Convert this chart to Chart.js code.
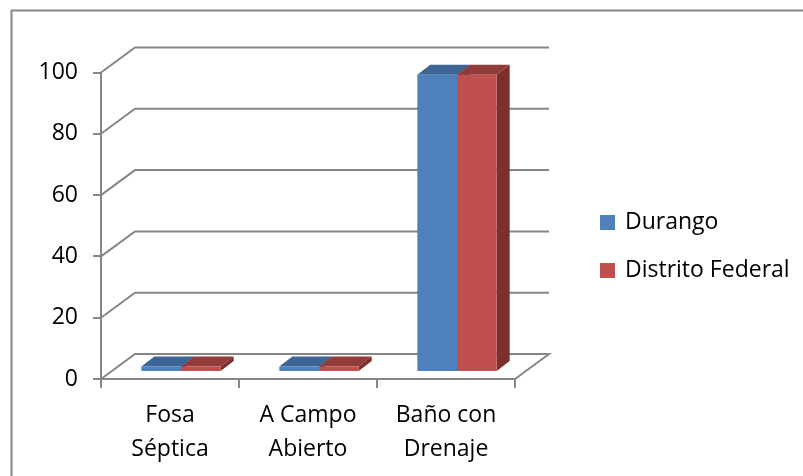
<!DOCTYPE html>
<html>
<head>
<meta charset="utf-8">
<script src="https://cdn.jsdelivr.net/npm/chart.js@4"></script>
<style>
html, body { margin: 0; padding: 0; background: #fff; }
#caja { position: absolute; left: 0; top: 0; width: 803px; height: 476px; }
</style>
</head>
<body>
<div id="caja"><canvas id="grafica" width="803" height="476"></canvas></div>
<script>
const categorias = [["Fosa", "Séptica"], ["A Campo", "Abierto"], ["Baño con", "Drenaje"]];
const durango = [1.8, 1.8, 97];
const distritoFederal = [1.8, 1.8, 97];
const marcasY = [0, 20, 40, 60, 80, 100];

const colorLinea = "#868686";
const fuente = { family: "'Open Sans'", size: 23 };
const fondoX = 34, fondoY = -25;   // profundidad de la pared
const barraX = 11, barraY = -7;    // donde arrancan las barras
const profX = 13, profY = -10;     // profundidad de cada barra

function tresD(color, caraTop, caraLado) {
    return { color, caraTop, caraLado };
}
const estilos = [tresD("#4f81bd", "#3c6494", "#335c8b"), tresD("#c0504d", "#913c3a", "#7c302e")];

const efecto3d = {
    id: "efecto3d",
    afterLayout(chart) {
        chart.legend.left = 576.5;
        chart.legend.right = 803;
        chart.legend.top = 186;
    },
    beforeDatasetsDraw(chart) {
        const c = chart.ctx, y = chart.scales.y, a = chart.chartArea;
        c.save();
        c.strokeStyle = colorLinea;
        c.lineWidth = 2;
        // paredes con las lineas de cuadricula
        marcasY.forEach(v => {
            const p = y.getPixelForValue(v);
            c.beginPath();
            c.moveTo(a.left, p);
            c.lineTo(a.left + fondoX, p + fondoY);
            c.lineTo(a.right + fondoX, p + fondoY);
            if (v === 0) c.lineTo(a.right, p);
            c.stroke();
        });
        c.restore();
        // caras de arriba y de lado
        c.save();
        c.translate(barraX, barraY);
        chart.data.datasets.forEach((ds, i) => {
            chart.getDatasetMeta(i).data.forEach(b => {
                const iz = b.x - b.width / 2, de = b.x + b.width / 2;
                c.fillStyle = estilos[i].caraTop;
                c.beginPath();
                c.moveTo(iz, b.y);
                c.lineTo(iz + profX, b.y + profY);
                c.lineTo(de + profX, b.y + profY);
                c.lineTo(de, b.y);
                c.fill();
                c.fillStyle = estilos[i].caraLado;
                c.beginPath();
                c.moveTo(de, b.y);
                c.lineTo(de + profX, b.y + profY);
                c.lineTo(de + profX, b.base + profY);
                c.lineTo(de, b.base);
                c.fill();
            });
        });
    },
    afterDatasetsDraw(chart) {
        chart.ctx.restore();
    },
    afterDraw(chart) {
        // el marco solo se ve arriba y a la izquierda
        const c = chart.ctx;
        c.save();
        c.strokeStyle = colorLinea;
        c.lineWidth = 2;
        c.beginPath();
        c.moveTo(11.5, 476);
        c.lineTo(11.5, 10.5);
        c.lineTo(803, 10.5);
        c.stroke();
        c.restore();
    }
};

new Chart(document.getElementById("grafica"), {
    type: "bar",
    data: {
        labels: categorias,
        datasets: [
            { label: "Durango", data: durango, backgroundColor: estilos[0].color },
            { label: "Distrito Federal", data: distritoFederal, backgroundColor: estilos[1].color }
        ]
    },
    options: {
        responsive: false,
        animation: false,
        events: [],
        layout: { padding: { top: 72.5, bottom: 0, left: 20, right: 123 } },
        datasets: { bar: { categoryPercentage: 0.575, barPercentage: 1 } },
        plugins: {
            tooltip: { enabled: false },
            title: { display: false },
            legend: {
                position: "right",
                align: "start",
                labels: {
                    boxWidth: 12, boxHeight: 12, padding: 25,
                    color: "#000",
                    font: fuente,
                    generateLabels(chart) {
                        return Chart.defaults.plugins.legend.labels.generateLabels(chart).map(it => {
                            it.strokeStyle = it.fillStyle;
                            it.lineWidth = 3;
                            return it;
                        });
                    }
                }
            }
        },
        scales: {
            x: {
                grid: { drawOnChartArea: false, color: colorLinea, lineWidth: 2, tickLength: 9, offset: true },
                border: { color: colorLinea, width: 2 },
                ticks: { color: "#000", font: { ...fuente, lineHeight: 34 / 23 }, padding: 10, maxRotation: 0 }
            },
            y: {
                min: 0, max: 100,
                grid: { drawOnChartArea: false, color: colorLinea, lineWidth: 2, tickLength: 8 },
                border: { color: colorLinea, width: 2 },
                ticks: { stepSize: 20, color: "#000", font: fuente, padding: 15 },
                afterFit(s) { s.width = 81; }
            }
        }
    },
    plugins: [efecto3d]
});
</script>
</body>
</html>
